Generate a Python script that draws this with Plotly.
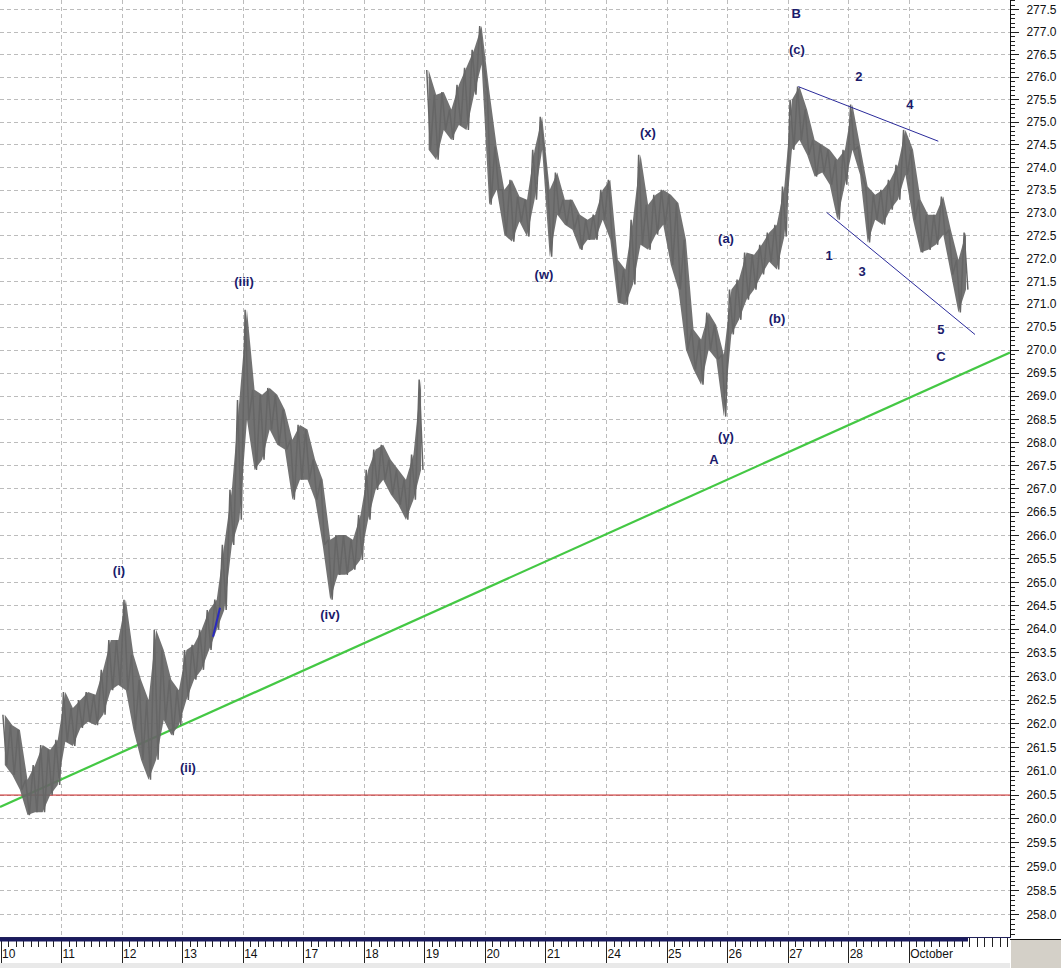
import numpy as np
import plotly.graph_objects as go

# ---------------- data ----------------
day_labels = ["10", "11", "12", "13", "14", "17", "18", "19", "20", "21",
              "24", "25", "26", "27", "28", "October"]

# hourly highs / lows (8 trading hours per day)
hour_high = [
    [262.19, 261.97, 261.87, 260.82, 261.13, 261.55, 261.45, 261.66],  # 10
    [262.67, 262.33, 262.50, 262.67, 262.61, 263.14, 263.77, 263.77],  # 11
    [264.63, 263.46, 262.93, 262.50, 263.99, 263.56, 262.93, 262.71],  # 12
    [263.56, 263.67, 263.99, 264.41, 264.63, 265.80, 266.98, 268.92],  # 13
    [270.88, 269.14, 269.03, 269.18, 269.03, 268.71, 268.06, 268.38],  # 14
    [268.28, 267.63, 267.20, 265.91, 266.01, 266.01, 265.91, 266.44],  # 17
    [267.41, 267.85, 267.95, 267.63, 267.41, 267.20, 267.74, 269.36],  # 18
    [276.16, 275.61, 275.67, 275.28, 275.83, 276.21, 276.61, 277.14],  # 19
    [275.72, 274.46, 273.51, 273.73, 273.36, 273.29, 274.39, 275.12],  # 20
    [273.51, 273.89, 273.29, 273.29, 272.96, 272.85, 272.96, 273.51],  # 21
    [273.73, 271.97, 271.76, 272.85, 274.28, 273.18, 273.40, 273.51],  # 24
    [273.40, 273.22, 272.41, 270.45, 270.23, 270.82, 270.55, 269.90],  # 25
    [271.32, 271.54, 272.13, 272.08, 272.30, 272.57, 272.74, 273.58],  # 26
    [275.50, 275.79, 275.28, 274.61, 274.50, 274.39, 274.17, 274.39],  # 27
    [275.39, 274.46, 273.58, 273.40, 273.51, 273.73, 274.06, 274.83],  # 28
    [274.39, 273.29, 272.96, 272.96, 273.36, 272.63, 271.97, 272.57],  # Oct 1
]
hour_low = [
    [261.13, 260.92, 260.61, 260.08, 260.14, 260.14, 260.50, 260.71],
    [261.62, 261.53, 261.91, 262.04, 261.97, 262.19, 262.71, 262.82],
    [262.71, 261.87, 261.24, 260.82, 261.24, 262.08, 261.76, 261.97],
    [262.50, 262.93, 263.14, 263.56, 263.99, 264.41, 265.80, 266.34],
    [268.49, 267.41, 267.63, 268.28, 267.95, 267.85, 266.77, 267.20],
    [267.20, 266.77, 265.80, 264.63, 265.16, 265.16, 265.27, 265.48],
    [266.34, 266.98, 267.20, 266.88, 266.66, 266.34, 266.77, 267.41],
    [274.39, 274.17, 274.83, 274.61, 274.94, 274.83, 275.61, 276.28],
    [273.18, 273.51, 272.52, 272.37, 272.81, 272.48, 273.29, 274.39],
    [272.04, 272.96, 272.74, 272.63, 272.19, 272.41, 272.41, 272.85],
    [272.41, 271.03, 270.99, 271.43, 272.30, 272.19, 272.52, 272.74],
    [271.86, 271.32, 270.01, 269.58, 269.25, 270.01, 269.80, 268.56],
    [270.34, 270.66, 271.10, 271.32, 271.65, 271.93, 271.76, 272.48],
    [274.39, 274.61, 274.28, 273.80, 273.89, 273.62, 272.85, 273.62],
    [274.39, 273.84, 272.35, 272.85, 272.74, 273.07, 273.29, 273.84],
    [272.85, 272.13, 272.19, 272.30, 272.52, 271.65, 270.82, 271.32],
]
gap_before_day = 7  # overnight gap up into the 19th

# wave labels: text, position in trading days, price
wave_text = ["(i)", "(ii)", "(iii)", "(iv)", "(w)", "(x)", "(y)", "A", "(a)", "(b)",
             "(c)", "B", "1", "2", "3", "4", "5", "C"]
wave_day = [1.949, 3.088, 4.013, 5.434, 8.968, 10.685, 11.974, 11.776, 11.974, 12.816,
            13.146, 13.131, 13.675, 14.170, 14.220, 15.012, 15.524, 15.524]
wave_price = [265.22, 261.05, 271.47, 264.29, 271.62, 274.75, 268.10, 267.61, 272.41, 270.66,
              276.58, 277.39, 272.04, 275.99, 271.69, 275.36, 270.42, 269.84]

# drawn lines (trading-day, price)
trend_day = [-0.0165, 16.664]
trend_price = [260.25, 269.95]
support_price = 260.5
wedge_top_day = [13.168, 15.480]
wedge_top_price = [275.79, 274.58]
wedge_bot_day = [13.637, 16.086]
wedge_bot_price = [273.01, 270.34]
mini_day = [3.501, 3.617]
mini_price = [263.84, 264.46]

y_tick_labels = ["258.0", "258.5", "259.0", "259.5", "260.0", "260.5", "261.0", "261.5",
                 "262.0", "262.5", "263.0", "263.5", "264.0", "264.5", "265.0", "265.5",
                 "266.0", "266.5", "267.0", "267.5", "268.0", "268.5", "269.0", "269.5",
                 "270.0", "270.5", "271.0", "271.5", "272.0", "272.5", "273.0", "273.5",
                 "274.0", "274.5", "275.0", "275.5", "276.0", "276.5", "277.0", "277.5"]

# ---------------- build figure ----------------
X_RANGE = [-0.0165, 16.664]
Y_RANGE = [257.54, 277.72]
W, H = 1061, 968
ML, MR, MT, MB = 0, 51, 0, 31
PW, PH = W - ML - MR, H - MT - MB

GRAY = "#666666"
NAVY = "#1b1b6b"
FONT = "Liberation Sans, Arial"
fig = go.Figure()
fig.add_trace(go.Scatter(x=X_RANGE, y=[support_price, support_price], mode="lines",
                         line=dict(color="#c81e1e", width=1), hoverinfo="skip"))
fig.add_trace(go.Scatter(x=trend_day, y=trend_price, mode="lines",
                         line=dict(color="#44c844", width=2.2), hoverinfo="skip"))

# price: the hourly high-low range as a band, with the high/low zigzag on top
segments = [range(0, gap_before_day), range(gap_before_day, len(hour_high))]
for seg in segments:
    cx, hi, lo, zx, zy = [], [], [], [], []
    for d in seg:
        for h in range(8):
            cx.append(d + (h + 0.5) / 8)
            hi.append(hour_high[d][h])
            lo.append(hour_low[d][h])
            zx += [d + (h + 0.25) / 8, d + (h + 0.75) / 8]
            zy += [hour_high[d][h], hour_low[d][h]]
    fig.add_trace(go.Scatter(x=cx + cx[::-1], y=hi + lo[::-1], mode="lines", fill="toself",
                             fillcolor="rgba(102,102,102,0.92)", line=dict(width=0),
                             hoverinfo="skip"))
    fig.add_trace(go.Scatter(x=zx, y=zy, mode="lines", line=dict(color=GRAY, width=1.5)))

for dx, py in [(wedge_top_day, wedge_top_price), (wedge_bot_day, wedge_bot_price)]:
    fig.add_trace(go.Scatter(x=dx, y=py, mode="lines",
                             line=dict(color="#2a2a9a", width=1), hoverinfo="skip"))
fig.add_trace(go.Scatter(x=mini_day, y=mini_price, mode="lines",
                         line=dict(color="#2a2ac0", width=2), hoverinfo="skip"))
fig.add_trace(go.Scatter(x=wave_day, y=wave_price, mode="text",
                         text=["<b>%s</b>" % t for t in wave_text],
                         textfont=dict(family=FONT, size=13, color=NAVY),
                         hoverinfo="skip"))

grid = dict(showgrid=True, gridcolor="#bcbcbc", gridwidth=1, griddash="4px,3px")
fig.update_xaxes(range=X_RANGE, tickmode="array", tickvals=list(range(len(day_labels))),
                 ticktext=day_labels, ticks="outside", ticklen=25, tickwidth=1,
                 tickcolor="#222", ticklabelposition="outside right", ticklabelstandoff=6,
                 tickfont=dict(family=FONT, size=12, color="#111"),
                 showline=True, linecolor="#20205a", linewidth=1, zeroline=False,
                 minor=dict(tick0=0, dtick=0.125, ticklen=9, tickcolor="#222",
                            ticks="outside", showgrid=False),
                 **grid)
fig.update_yaxes(type="log", side="right", range=[np.log10(Y_RANGE[0]), np.log10(Y_RANGE[1])],
                 tickmode="array", tickvals=[float(t) for t in y_tick_labels],
                 ticktext=y_tick_labels, ticks="outside", ticklen=8, tickcolor="#222",
                 ticklabelstandoff=5,
                 tickfont=dict(family=FONT, size=12, color="#111"),
                 showline=True, linecolor="#111", linewidth=1, zeroline=False,
                 minor=dict(tickmode="array",
                            tickvals=list(np.round(np.arange(257.6, 277.75, 0.1), 1)),
                            ticklen=4, tickcolor="#222", ticks="outside", showgrid=False),
                 **grid)


def px_y(p):  # pixel row -> paper y
    return (H - MB - p) / PH


def px_x(p):
    return (p - ML) / PW


fig.update_layout(
    width=W, height=H, margin=dict(l=ML, r=MR, t=MT, b=MB), autosize=False,
    paper_bgcolor="white", plot_bgcolor="white", showlegend=False,
    shapes=[
        dict(type="rect", xref="paper", yref="paper", x0=px_x(0), x1=px_x(968),
             y0=px_y(938), y1=px_y(941.5), fillcolor="#1a1a5e", line=dict(width=0)),
        dict(type="rect", xref="paper", yref="paper", x0=px_x(1011), x1=px_x(1061),
             y0=px_y(940), y1=px_y(968), fillcolor="#d4d0c8", line=dict(width=0)),
        dict(type="line", xref="paper", yref="paper", x0=px_x(1010), x1=px_x(1061),
             y0=px_y(939.5), y1=px_y(939.5), line=dict(color="#111", width=1)),
        dict(type="rect", xref="paper", yref="paper", x0=px_x(0), x1=px_x(1010),
             y0=px_y(963), y1=px_y(968), fillcolor="#e9e9e9", line=dict(width=0)),
    ],
)
fig.write_html("out.html", config={"displayModeBar": False},
               post_script="document.body.style.margin='0px';"
                           "document.body.style.overflow='hidden';")
